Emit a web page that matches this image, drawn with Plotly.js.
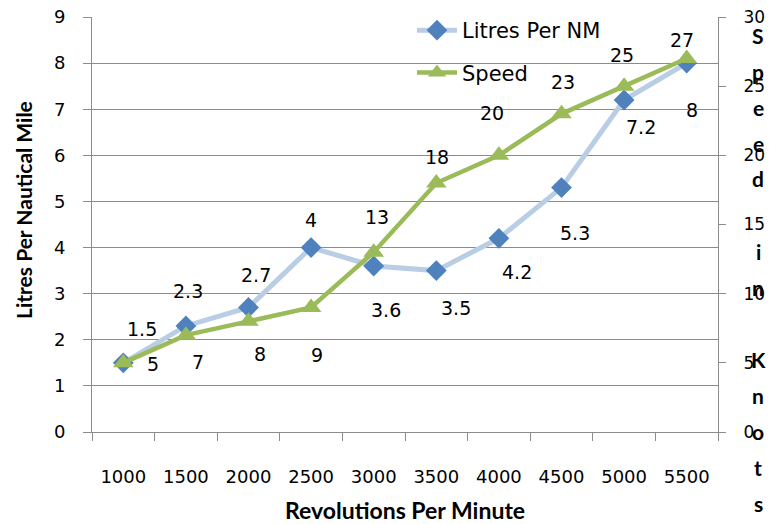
<!DOCTYPE html>
<html>
<head>
<meta charset="utf-8">
<script src="https://cdn.plot.ly/plotly-3.0.1.min.js"></script>
<style>html,body{margin:0;padding:0;background:#fff;}#chart{width:778px;height:524px;}</style>
</head>
<body>
<div id="chart"></div>
<script>
// ---- data ----
var rpm = [1000, 1500, 2000, 2500, 3000, 3500, 4000, 4500, 5000, 5500];
var rpmLabels = ["1000","1500","2000","2500","3000","3500","4000","4500","5000","5500"];
var litresPerNM = [1.5, 2.3, 2.7, 4, 3.6, 3.5, 4.2, 5.3, 7.2, 8];
var speedKnots = [5, 7, 8, 9, 13, 18, 20, 23, 25, 27];
var leftTicks = [0,1,2,3,4,5,6,7,8,9];
var rightTicks = [0,5,10,15,20,25,30];

// ---- label offsets (px, style only) ----
var litresOffX = [19, 2, 7, 0, 12, 20, 18, 13, 17, 5];
var litresOffY = [34, 35, 33, 28, -44, -37, -34, -45, -27, -47];
var speedOffX = [30, 12, 11, 6, 3, 1, -7, 1, -2, -5];
var speedOffY = [-1, -27, -33, -47, 35, 26, 42, 32, 31, 19];

var FONT = "DejaVu Sans";
var BOLD = "Lato";
var GRID = "#8c8c8c";

var traces = [
  {
    x: rpm, y: litresPerNM, name: "Litres Per NM", type: "scatter", mode: "lines+markers",
    line: {color: "#b9cde5", width: 5},
    marker: {symbol: "diamond", size: 16, color: "#4f81bd"},
    legendgroup: "a", yaxis: "y"
  },
  {
    x: rpm, y: speedKnots, name: "Speed", type: "scatter", mode: "lines+markers",
    line: {color: "#9bbb59", width: 4.5},
    marker: {symbol: "triangle-up", size: 18, color: "#9bbb59"},
    legendgroup: "b", yaxis: "y2"
  }
];

var annotations = [];
rpm.forEach(function (c, i) {
  annotations.push({x: c, y: litresPerNM[i], xref: "x", yref: "y", text: String(litresPerNM[i]),
    showarrow: false, xanchor: "center", yanchor: "middle", xshift: litresOffX[i], yshift: litresOffY[i],
    font: {family: FONT, size: 19, color: "#000"}});
  annotations.push({x: c, y: speedKnots[i], xref: "x", yref: "y2", text: String(speedKnots[i]),
    showarrow: false, xanchor: "center", yanchor: "middle", xshift: speedOffX[i], yshift: speedOffY[i],
    font: {family: FONT, size: 19, color: "#000"}});
});

// axis titles
var W = 778, H = 524;
var plotTop = 17, plotBottom = 432, plotLeft = 92, plotRight = 718;
function pyf(p) { return (plotBottom - p) / (plotBottom - plotTop); }
function pxf(p) { return (p - plotLeft) / (plotRight - plotLeft); }

annotations.push({xref: "paper", yref: "paper", x: pxf(23), y: pyf(210), xanchor: "center", yanchor: "middle",
  text: "Litres Per Nautical Mile", textangle: -90, showarrow: false,
  font: {family: BOLD, size: 21, color: "#000", weight: "bold"}});
annotations.push({xref: "paper", yref: "paper", x: pxf(405), y: pyf(510), xanchor: "center", yanchor: "middle",
  text: "Revolutions Per Minute", showarrow: false,
  font: {family: BOLD, size: 23, color: "#000", weight: "bold"}});

var rightTitle = "Speed in Knots";
rightTitle.split("").forEach(function (ch, i) {
  if (ch === " ") return;
  annotations.push({xref: "paper", yref: "paper", x: pxf(758), y: pyf(35 + 36 * i), xanchor: "center", yanchor: "middle",
    text: ch, showarrow: false, font: {family: BOLD, size: 21, color: "#000", weight: "bold"}});
});

var layout = {
  width: W, height: H,
  margin: {l: 92, r: 60, t: 17, b: 92, pad: 0, autoexpand: false},
  paper_bgcolor: "#fff", plot_bgcolor: "#fff",
  font: {family: FONT, size: 18, color: "#000"},
  showlegend: true,
  legend: {x: pxf(412), y: pyf(10), xanchor: "left", yanchor: "top", bgcolor: "rgba(0,0,0,0)",
    font: {family: FONT, size: 21, color: "#000"}, traceorder: "grouped", tracegroupgap: 12,
    itemwidth: 40},
  xaxis: {type: "linear", range: [750, 5750], tickvals: rpm, ticktext: rpmLabels, ticks: "",
    minor: {ticks: "outside", tick0: 750, dtick: 500, ticklen: 8, tickcolor: GRID, showgrid: false},
    showline: true, linecolor: GRID, showgrid: false, zeroline: false, ticklabelstandoff: 28,
    automargin: false, tickfont: {family: FONT, size: 18, color: "#000"}},
  yaxis: {range: [0, 9], tickvals: leftTicks, ticks: "outside", ticklen: 8, tickcolor: GRID,
    showline: true, linecolor: GRID, showgrid: true, gridcolor: GRID, zeroline: false,
    automargin: false, ticklabelstandoff: 14, tickfont: {family: FONT, size: 18, color: "#000"}},
  yaxis2: {range: [0, 30], tickvals: rightTicks, overlaying: "y", side: "right", ticks: "outside",
    ticklen: 7, tickcolor: GRID, showline: true, linecolor: GRID, showgrid: false, zeroline: false,
    automargin: false, ticklabelstandoff: 14, tickfont: {family: FONT, size: 17, color: "#000"}},
  annotations: annotations
};

Plotly.newPlot("chart", traces, layout, {displayModeBar: false, staticPlot: true});
</script>
</body>
</html>
